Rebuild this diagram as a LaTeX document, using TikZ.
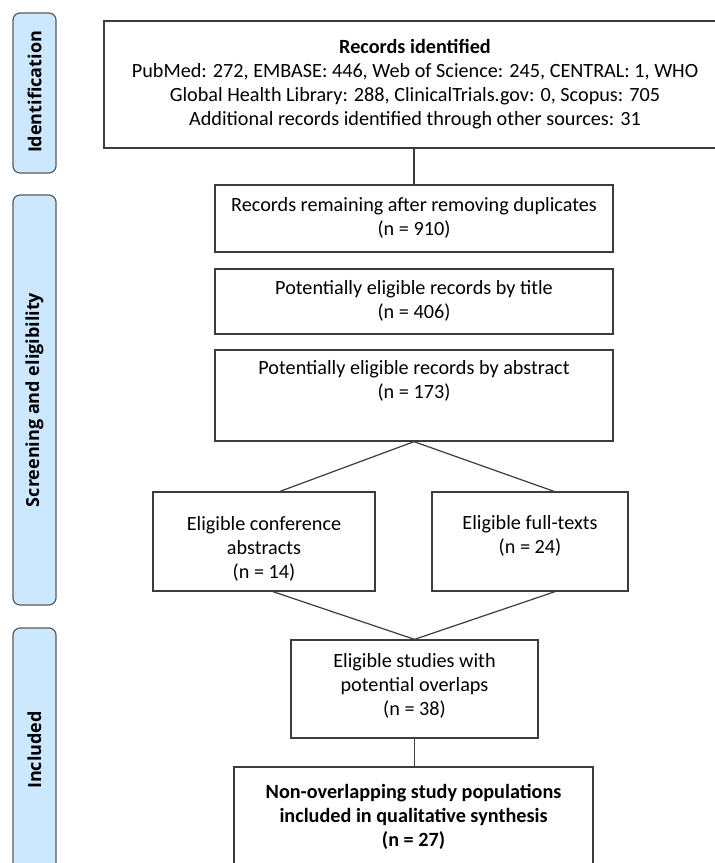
\documentclass[tikz,border=0pt]{standalone}
\usepackage{fontspec}
\setmainfont{Carlito}
\newfontfamily\sidefont{Open Sans}
\usetikzlibrary{calc}
\definecolor{sideblue}{RGB}{204,232,255}
\definecolor{sideline}{RGB}{90,90,90}
\definecolor{boxline}{RGB}{60,60,60}
\tikzset{
  sidebox/.style={draw=sideline, line width=1.2pt, fill=sideblue, rounded corners=7pt, minimum width=43pt, inner sep=0pt},
  sidetext/.style={rotate=90, font=\sidefont\bfseries\fontsize{18}{20}\selectfont},
  flowbox/.style={draw=boxline, line width=1.3pt, inner sep=0pt},
  flowtext/.style={align=center, font=\fontsize{20.2}{23.8}\selectfont, inner sep=0pt},
  conn/.style={draw=boxline, line width=1.2pt}
}
\begin{document}
\begin{tikzpicture}[x=1pt,y=-1pt]
\useasboundingbox (0,0) rectangle (715,863);
\clip (0,0) rectangle (715,863);
\fill[white] (0,0) rectangle (715,863);
% side labels
\node[sidebox, minimum height=160pt] (sid) at (34.5,93) {};
\node[sidetext] (sidt) at (34.5,92) {Identification};
\node[sidebox, minimum height=410pt] (sscr) at (34.5,400) {};
\node[sidetext] (sscrt) at (34.5,400) {Screening and eligibility};
\node[sidebox, minimum height=290pt] (sinc) at (34.5,773) {};
\node[sidetext] (sinct) at (34.5,750) {Included};
% flow boxes
\node[flowbox, minimum width=622pt, minimum height=127pt] (idb) at (415,84.5) {};
\node[flowtext] (idt) at (415,84) {\textbf{Records identified}\\PubMed: 272, EMBASE: 446, Web of Science: 245, CENTRAL: 1, WHO\\Global Health Library: 288, ClinicalTrials.gov: 0, Scopus: 705\\Additional records identified through other sources: 31};
\node[flowbox, minimum width=398pt, minimum height=67pt] (dup) at (414,218.5) {};
\node[flowtext] (dupt) at (414,218) {Records remaining after removing duplicates\\(n = 910)};
\node[flowbox, minimum width=398pt, minimum height=65pt] (tit) at (414,301.5) {};
\node[flowtext] (titt) at (414,301) {Potentially eligible records by title\\(n = 406)};
\node[flowbox, minimum width=398pt, minimum height=91pt] (abs) at (414,395.5) {};
\node[flowtext] (abst) at (414,381) {Potentially eligible records by abstract\\(n = 173)};
\node[flowbox, minimum width=222pt, minimum height=99pt] (conf) at (264,541.5) {};
\node[flowtext] (conft) at (264,549) {Eligible conference\\abstracts\\(n = 14)};
\node[flowbox, minimum width=196pt, minimum height=99pt] (full) at (530,541.5) {};
\node[flowtext] (fullt) at (530,536) {Eligible full-texts\\(n = 24)};
\node[flowbox, minimum width=247pt, minimum height=98pt] (ovl) at (414.5,689) {};
\node[flowtext] (ovlt) at (414.5,686) {Eligible studies with\\potential overlaps\\(n = 38)};
\node[flowbox, minimum width=359pt, minimum height=130pt] (fin) at (413.5,832) {};
\node[flowtext, font=\bfseries\fontsize{20.2}{23.8}\selectfont] (fint) at (413.5,817) {Non-overlapping study populations\\included in qualitative synthesis\\(n = 27)};
% connectors
\draw[conn] (idb.south -| dup.north) -- (dup.north);
\draw[conn] (abs.south) -- ($(conf.north)+(16,0)$);
\draw[conn] (abs.south) -- ($(full.north)+(24,0)$);
\draw[conn] ($(conf.south)+(9,0)$) -- (ovl.north);
\draw[conn] ($(full.south)+(25,0)$) -- (ovl.north);
\draw[conn] (ovl.south) -- (fin.north -| ovl.south);
\end{tikzpicture}
\end{document}
